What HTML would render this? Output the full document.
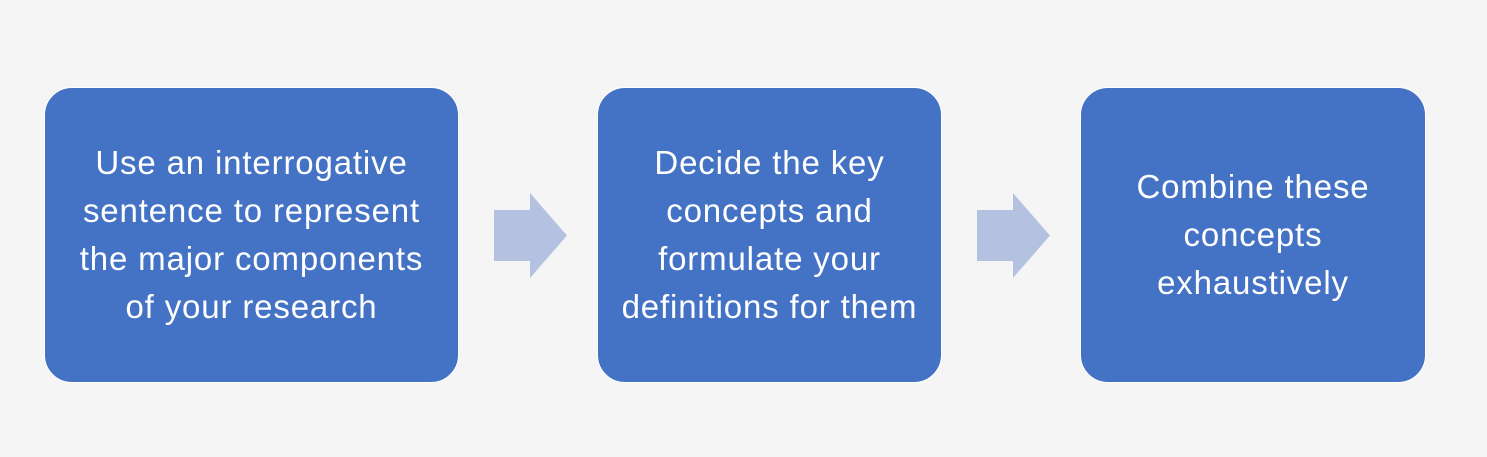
<!DOCTYPE html>
<html><head><style>
body{margin:0;width:1487px;height:457px;background:#f5f5f5;position:relative;overflow:hidden;font-family:"Liberation Sans",sans-serif;}
.b{position:absolute;top:87px;height:296px;background:#4472c4;border:1px solid #fff;border-radius:28px;box-sizing:border-box;color:#fff;font-size:33px;letter-spacing:0.85px;line-height:48px;text-align:center;display:flex;align-items:center;justify-content:center;white-space:nowrap;}
svg{position:absolute;top:0;left:0}
</style></head><body>
<div class="b" style="left:44px;width:415px">Use an interrogative<br>sentence to represent<br>the major components<br>of your research</div>
<div class="b" style="left:597px;width:345px">Decide the key<br>concepts and<br>formulate your<br>definitions for them</div>
<div class="b" style="left:1080px;width:346px">Combine these<br>concepts<br>exhaustively</div>
<svg width="1487" height="457">
<polygon points="494,210 530,210 530,193 567,235.5 530,278 530,261 494,261" fill="#b4c1e1"/>
<polygon points="977,210 1013,210 1013,193 1050,235.5 1013,278 1013,261 977,261" fill="#b4c1e1"/>
</svg>
</body></html>
